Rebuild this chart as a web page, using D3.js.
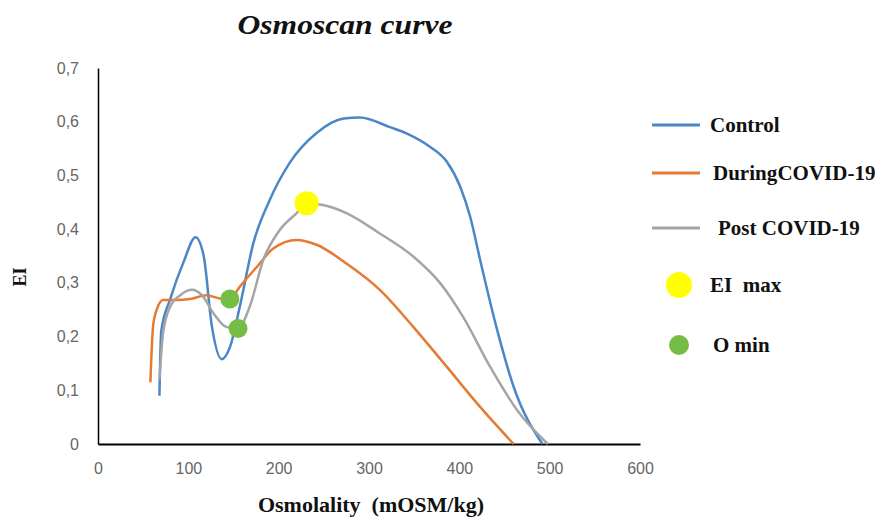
<!DOCTYPE html>
<html>
<head>
<meta charset="utf-8">
<script src="https://cdn.jsdelivr.net/npm/d3@7"></script>
<style>
  body { margin: 0; background: #fff; }
  svg { display: block; }
  .tick text { fill: #666; font-family: "Liberation Sans", Arial, sans-serif; font-size: 16px; }
  .serif { font-family: "Liberation Serif", "Times New Roman", serif; font-weight: bold; fill: #111; }
</style>
</head>
<body>
<svg id="chart" width="879" height="517"></svg>
<script>
// values
var controlX = [68, 70, 80, 95, 108, 117, 126, 137, 146, 157, 172, 190, 212, 242, 272, 290, 323, 342, 367, 386, 401, 412, 423, 441, 460, 492];
var controlY = [0.09, 0.21, 0.27, 0.34, 0.385, 0.35, 0.22, 0.158, 0.18, 0.256, 0.374, 0.454, 0.523, 0.579, 0.606, 0.608, 0.59, 0.578, 0.554, 0.526, 0.479, 0.423, 0.343, 0.218, 0.107, 0];

var duringX = [58, 61, 65, 72, 87, 102, 120, 135, 146, 157, 176, 194, 220, 242, 275, 312, 349, 386, 423, 460];
var duringY = [0.115, 0.22, 0.25, 0.268, 0.268, 0.27, 0.277, 0.271, 0.27, 0.293, 0.33, 0.364, 0.38, 0.371, 0.336, 0.287, 0.218, 0.144, 0.069, 0];

var postX = [68, 72, 80, 91, 104, 115, 128, 142, 155, 168, 183, 201, 220, 231, 249, 275, 312, 349, 379, 404, 434, 464, 498];
var postY = [0.12, 0.206, 0.256, 0.277, 0.287, 0.277, 0.243, 0.218, 0.215, 0.256, 0.343, 0.398, 0.43, 0.448, 0.445, 0.43, 0.392, 0.349, 0.299, 0.237, 0.144, 0.063, 0];

var maxX = [231], maxY = [0.448];
var minX = [146, 155], minY = [0.27, 0.215];

var xTicks = [0, 100, 200, 300, 400, 500, 600];
var yTicks = [0, 0.1, 0.2, 0.3, 0.4, 0.5, 0.6, 0.7];

var seriesNames = ["Control", "During COVID-19", "Post COVID-19"];
var seriesColors = ["#4a87c6", "#e57a35", "#a5a5a5"];

var svg = d3.select("#chart");

var x = d3.scaleLinear().domain([0, 600]).range([98, 640]),
    y = d3.scaleLinear().domain([0, 0.7]).range([444, 68]);

// axes
svg.append("g")
    .attr("transform", "translate(0,444)")
    .call(d3.axisBottom(x).tickValues(xTicks).tickSize(0).tickPadding(19))
    .call(g => g.select(".domain").attr("stroke", "#000").attr("stroke-width", 2));

svg.append("g")
    .attr("transform", "translate(98,0)")
    .call(d3.axisLeft(y).tickValues(yTicks).tickSize(0).tickPadding(19)
        .tickFormat(d => d === 0 ? "0" : d3.format(".1f")(d).replace(".", ",")))
    .call(g => g.select(".domain").attr("stroke", "#000").attr("stroke-width", 1.5));

// titles
svg.append("text")
    .attr("class", "serif")
    .attr("x", 345).attr("y", 34)
    .attr("text-anchor", "middle")
    .attr("textLength", 215)
    .attr("lengthAdjust", "spacingAndGlyphs")
    .style("font-size", "28px")
    .style("font-style", "italic")
    .text("Osmoscan curve");

svg.append("text")
    .attr("class", "serif")
    .attr("x", 371).attr("y", 512)
    .attr("text-anchor", "middle")
    .style("font-size", "22px")
    .style("white-space", "pre")
    .text("Osmolality  (mOSM/kg)");

svg.append("text")
    .attr("class", "serif")
    .attr("transform", "translate(26,277) rotate(-90)")
    .attr("text-anchor", "middle")
    .style("font-size", "18px")
    .text("EI");

// curves
var line = d3.line()
    .x(d => x(d[0]))
    .y(d => y(d[1]))
    .curve(d3.curveMonotoneX);

var series = [
  d3.zip(controlX, controlY),
  d3.zip(duringX, duringY),
  d3.zip(postX, postY)
];

svg.selectAll(".curve")
  .data(series)
  .enter().append("path")
    .attr("class", "curve")
    .attr("d", line)
    .attr("fill", "none")
    .attr("stroke", (d, i) => seriesColors[i])
    .attr("stroke-width", 2.5)
    .attr("stroke-linejoin", "round");

// markers
svg.selectAll(".omin")
  .data(d3.zip(minX, minY))
  .enter().append("circle")
    .attr("cx", d => x(d[0]))
    .attr("cy", d => y(d[1]))
    .attr("r", 9.5)
    .attr("fill", "#76bd45");

svg.selectAll(".eimax")
  .data(d3.zip(maxX, maxY))
  .enter().append("circle")
    .attr("cx", d => x(d[0]))
    .attr("cy", d => y(d[1]))
    .attr("r", 12)
    .attr("fill", "#ffff00");

// legend
var legY = [125, 173, 228];
var legTextX = [710, 713, 718];
seriesNames.forEach(function(name, i) {
  svg.append("line")
      .attr("x1", 652).attr("x2", 700)
      .attr("y1", legY[i]).attr("y2", legY[i])
      .attr("stroke", seriesColors[i])
      .attr("stroke-width", 3);
  svg.append("text")
      .attr("class", "serif")
      .attr("x", legTextX[i]).attr("y", legY[i])
      .attr("dy", "0.35em")
      .style("font-size", "21px")
      .style("word-spacing", i === 1 ? "-5px" : "0")
      .text(name);
});

svg.append("circle").attr("cx", 679).attr("cy", 285).attr("r", 13).attr("fill", "#ffff00");
svg.append("text")
    .attr("class", "serif")
    .attr("x", 710).attr("y", 285).attr("dy", "0.35em")
    .style("font-size", "21px")
    .style("white-space", "pre")
    .text("EI  max");

svg.append("circle").attr("cx", 679).attr("cy", 345).attr("r", 10).attr("fill", "#76bd45");
svg.append("text")
    .attr("class", "serif")
    .attr("x", 713).attr("y", 345).attr("dy", "0.35em")
    .style("font-size", "21px")
    .style("white-space", "pre")
    .text("O min");
</script>
</body>
</html>
